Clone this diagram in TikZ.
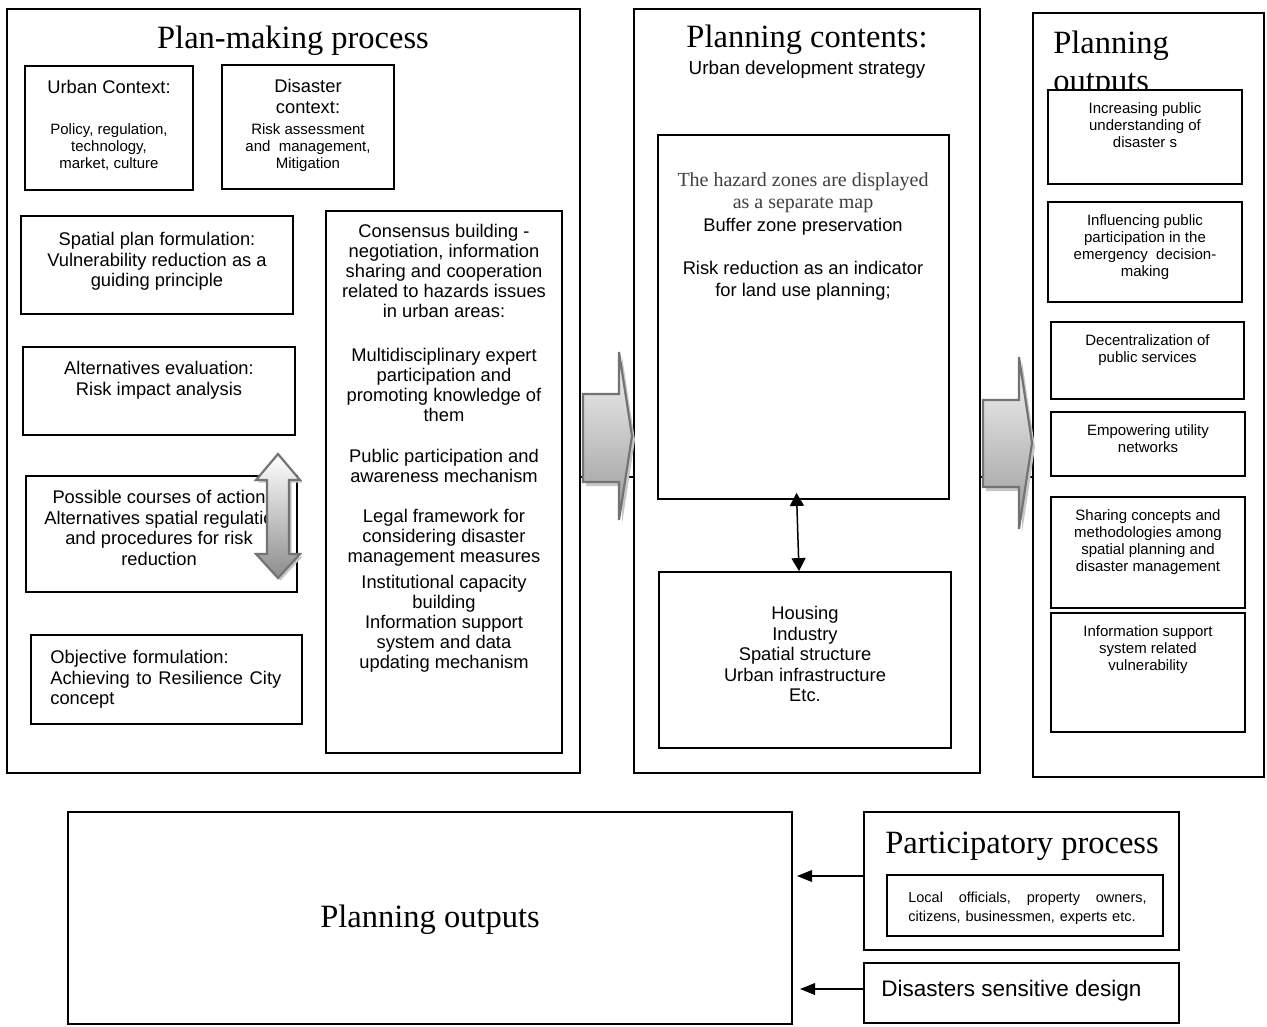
\documentclass[tikz,border=0pt]{standalone}
\usepackage{fontspec}
\setmainfont{Liberation Sans}
\newfontfamily\tmsfont{Liberation Serif}
\usetikzlibrary{fit,arrows.meta,positioning}

\tikzset{
  frame/.style={draw, line width=1.1pt, inner sep=0pt, fill=white},
  big/.style={font=\tmsfont\fontsize{19.5}{22.4}\selectfont, inner sep=0pt},
  body/.style={font=\fontsize{11}{12.3}\selectfont, align=center, inner sep=0pt, anchor=north},
  note/.style={font=\fontsize{9}{10.2}\selectfont, align=center, inner sep=0pt, anchor=north},
  link/.style={line width=0.9pt, {Triangle[length=7.8pt,width=8.4pt]}-{Triangle[length=7.8pt,width=8.4pt]}},
  feed/.style={line width=0.9pt, -{Triangle[length=9pt,width=7pt]}},
  blockarr/.style={draw=black!55, line width=1.3pt, top color=black!4, bottom color=black!40, line join=miter},
  shade/.style={fill=black!22, draw=none},
}

\begin{document}
\begin{tikzpicture}[x=0.6pt, y=-0.6pt]
\useasboundingbox (0,0) rectangle (1267,1026);
% outer frames
\node[frame, fit={(7,9)(580,773)}] (plan) {};
\node[frame, fit={(634,9)(980,773)}] (cont) {};
\node[frame, fit={(1033,13)(1264,777)}] (outs) {};
\node[frame, fit={(68,812)(792,1024)}] (result) {};
\node[frame, fit={(864,812)(1179,950)}] (partic) {};
\node[frame, fit={(864,963)(1179,1023)}] (design) {};
% titles
\node[big, anchor=base] (plantitle) at (293,48) {Plan-making process};
\node[big, anchor=base] (conttitle) at (807,47) {Planning contents:};
\node[font=\fontsize{11.3}{13}\selectfont, inner sep=0pt, anchor=base] (strat) at (807,74) {Urban development strategy};
\node[big, anchor=north west, align=left] (outtitle) at (1053,31) {Planning\\outputs};
\node[big, anchor=base] (parttitle) at (1022,853) {Participatory process};
\node[big, anchor=base] (restitle) at (430,927) {Planning outputs};
\node[font=\fontsize{13.5}{15}\selectfont, inner sep=0pt, anchor=base west] (designtx) at (881,996) {Disasters sensitive design};
% plan-making boxes
\node[frame, fit={(25,66)(193,190)}] (urban) {};
\node[body] (urbanhd) at (109,80) {Urban Context:};
\node[note] (urbantx) at (109,123) {Policy, regulation,\\technology,\\market, culture};
\node[frame, fit={(222,65)(394,189)}] (disaster) {};
\node[body, font=\fontsize{11}{12.6}\selectfont] (disasterhd) at (308,79) {Disaster\\context:};
\node[note] (disastertx) at (308,123) {Risk assessment\\and~ management,\\Mitigation};
\node[frame, fit={(21,216)(293,314)}] (spatial) {};
\node[body] (spatialtx) at (157,232) {Spatial plan formulation:\\Vulnerability reduction as a\\guiding principle};
\node[frame, fit={(23,347)(295,435)}] (evalbox) {};
\node[body] (evaltx) at (159,361) {Alternatives evaluation:\\Risk impact analysis};
\node[frame, fit={(26,476)(297,592)}] (courses) {};
\node[body] (coursestx) at (159,490) {Possible courses of action\\Alternatives spatial regulatio\\and procedures for risk\\reduction};
\node[frame, fit={(31,635)(302,724)}] (objective) {};
\node[body, anchor=north west, text width=138.6pt, align=left] (objectivetx) at (50,650) {Objective formulation:\\Achieving\hfill to\hfill Resilience\hfill City\\concept};
\node[frame, fit={(326,211)(562,753)}] (consensus) {};
\node[body, font=\fontsize{11}{12}\selectfont] (consensustx) at (444,224) {Consensus building -\\negotiation, information\\sharing and cooperation\\related to hazards issues\\in urban areas:\\[14.4pt]
  Multidisciplinary expert\\participation and\\promoting knowledge of\\them\\[12.6pt]
  Public participation and\\awareness mechanism\\[12pt]
  Legal framework for\\considering disaster\\management measures\\[3.6pt]
  Institutional capacity\\building\\Information support\\system and data\\updating mechanism};
% planning contents
\node[frame, fit={(658,135)(949,499)}] (hazard) {};
\node[body, font=\tmsfont\fontsize{12}{13.2}\selectfont, text=black!75] (hazardtx) at (803,172) {The hazard zones are displayed\\as a separate map};
\node[body] (buffertx) at (803,218) {Buffer zone preservation};
\node[body, font=\fontsize{11}{13.2}\selectfont] (risktx) at (803,261) {Risk reduction as an indicator\\for land use planning;};
\node[frame, fit={(659,572)(951,748)}] (sectors) {};
\node[body] (sectorstx) at (805,606) {Housing\\Industry\\Spatial structure\\Urban infrastructure\\Etc.};
\draw[link] ([xshift=-4.2pt, yshift=4.2pt]hazard.south) -- ([xshift=-3.6pt]sectors.north);
% planning outputs column
\foreach \n/\xa/\ya/\xb/\yb/\txt in {
  1/1048/90/1242/184/{Increasing public\\understanding of\\disaster s},
  2/1048/202/1242/302/{Influencing public\\participation in the\\emergency~ decision-\\making},
  3/1051/322/1244/399/{Decentralization of\\public services},
  4/1051/412/1245/476/{Empowering utility\\networks},
  5/1051/497/1245/608/{Sharing concepts and\\methodologies among\\spatial planning and\\disaster management},
  6/1051/613/1245/732/{Information support\\system related\\vulnerability}}{
  \node[frame, fit={(\xa,\ya)(\xb,\yb)}] (out\n) {};
  \node[note] (outtx\n) at ([yshift=-7.8pt]out\n.north) {\txt};
}
% participatory process
\node[frame, fit={(887,875)(1163,936)}] (actors) {};
\node[note, font=\fontsize{8.7}{11.4}\selectfont, anchor=north west, text width=143pt, align=left] (actorstx) at (908,892) {Local\hfill officials,\hfill property\hfill owners,\\citizens, businessmen, experts etc.};
\coordinate (fin1) at (797,876);
\coordinate (fin2) at (800,989);
\draw[feed] (partic.west |- fin1) -- (fin1);
\draw[feed] (design.west |- fin2) -- (fin2);
% links behind the block arrows
\coordinate (lvl) at (600,477);
\draw[line width=1.1pt] (plan.east |- lvl) -- (cont.west |- lvl);
\draw[line width=1.1pt] (cont.east |- lvl) -- (outs.west |- lvl);
% block arrows
\fill[shade, xshift=1.8pt, yshift=-2.4pt] (583,394) -- (619,394) -- (619,352) -- (632,436) -- (619,520) -- (619,482) -- (583,482) -- cycle;
\draw[blockarr] (583,394) -- (619,394) -- (619,352) -- (632,436) -- (619,520) -- (619,482) -- (583,482) -- cycle;
\fill[shade, xshift=1.8pt, yshift=-2.4pt] (983,400) -- (1019,400) -- (1019,357) -- (1032,443) -- (1019,529) -- (1019,487) -- (983,487) -- cycle;
\draw[blockarr] (983,400) -- (1019,400) -- (1019,357) -- (1032,443) -- (1019,529) -- (1019,487) -- (983,487) -- cycle;
\fill[shade, xshift=1.5pt, yshift=-1.5pt] (278,454) -- (300,480) -- (289,480) -- (289,554) -- (300,554) -- (278,578) -- (256,554) -- (267,554) -- (267,480) -- (256,480) -- cycle;
\draw[blockarr, top color=white, bottom color=black!45] (278,454) -- (300,480) -- (289,480) -- (289,554) -- (300,554) -- (278,578) -- (256,554) -- (267,554) -- (267,480) -- (256,480) -- cycle;
\end{tikzpicture}
\end{document}
